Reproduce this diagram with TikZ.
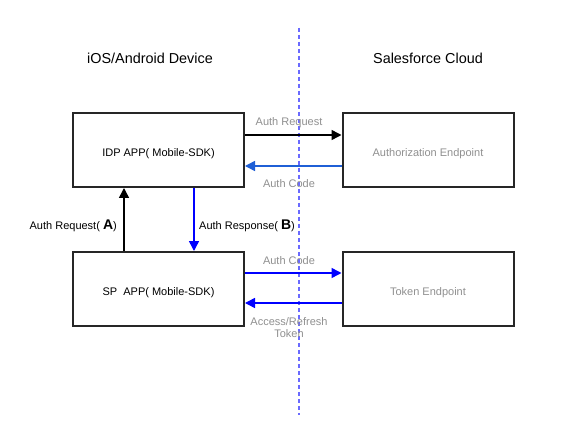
\documentclass[tikz,border=0pt]{standalone}
\usepackage{fontspec}
\setmainfont{Liberation Sans}
\usetikzlibrary{arrows.meta}
\definecolor{gtext}{HTML}{909090}
\definecolor{pblue}{HTML}{0000FF}
\definecolor{mblue}{HTML}{1F5FD6}
\definecolor{dblue}{HTML}{6A6AFF}
\tikzset{
  box/.style={draw=black!85, line width=2pt, minimum width=171pt, minimum height=74pt, inner sep=0pt, text height=12.5pt, text depth=0pt, font=\fontsize{11}{13}\selectfont},
  gbox/.style={box, text=gtext},
  conn/.style={line width=1.5pt, -{Triangle[length=10pt,width=10pt]}},
  lbl/.style={font=\fontsize{11}{12}\selectfont, inner sep=0pt, yshift=-1.5pt},
  glbl/.style={lbl, text=gtext, align=center},
  title/.style={font=\fontsize{14.4}{16}\selectfont, inner sep=0pt, yshift=-1pt}
}
\begin{document}
\begin{tikzpicture}[x=1pt,y=1pt]
\useasboundingbox (0,0) rectangle (576,-433);
\fill[white] (0,0) rectangle (576,-433);
% titles
\node[title] (t1) at (150,-57) {iOS/Android Device};
\node[title] (t2) at (428,-57) {Salesforce Cloud};
% boxes
\node[box] (idp) at (158.5,-150) {IDP APP( Mobile-SDK)};
\node[box] (sp) at (158.5,-289) {SP\ \ APP( Mobile-SDK)};
\node[gbox] (auth) at (428,-150) {Authorization Endpoint};
\node[gbox] (tok) at (428,-289) {Token Endpoint};
% divider
\coordinate (dtop) at (299,-28);
\coordinate (dbot) at (299,-415);
\draw[dblue, line width=2pt, dash pattern=on 4pt off 3pt] (dtop) -- (dbot);
% horizontal connectors
\draw[conn, black] (idp.east |- 0,-135) -- (auth.west |- 0,-135);
\draw[conn, mblue] (auth.west |- 0,-166) -- (idp.east |- 0,-166);
\draw[conn, pblue] (sp.east |- 0,-273) -- (tok.west |- 0,-273);
\draw[conn, pblue] (tok.west |- 0,-303) -- (sp.east |- 0,-303);
% vertical connectors
\draw[conn, black] (sp.north -| 124,0) -- (idp.south -| 124,0);
\draw[conn, pblue] (idp.south -| 194,0) -- (sp.north -| 194,0);
% labels
\node[glbl] (l1) at (289,-121) {Auth Request};
\node[glbl] (l2) at (289,-182) {Auth Code};
\node[glbl] (l3) at (289,-259) {Auth Code};
\node[glbl] (l4) at (289,-326) {Access/Refresh\\Token};
\node[lbl, anchor=east] (la) at (117,-224) {Auth Request( {\fontsize{14}{14}\selectfont\bfseries A})};
\node[lbl, anchor=west] (lb) at (199,-224) {Auth Response( {\fontsize{14}{14}\selectfont\bfseries B})};
\end{tikzpicture}
\end{document}
